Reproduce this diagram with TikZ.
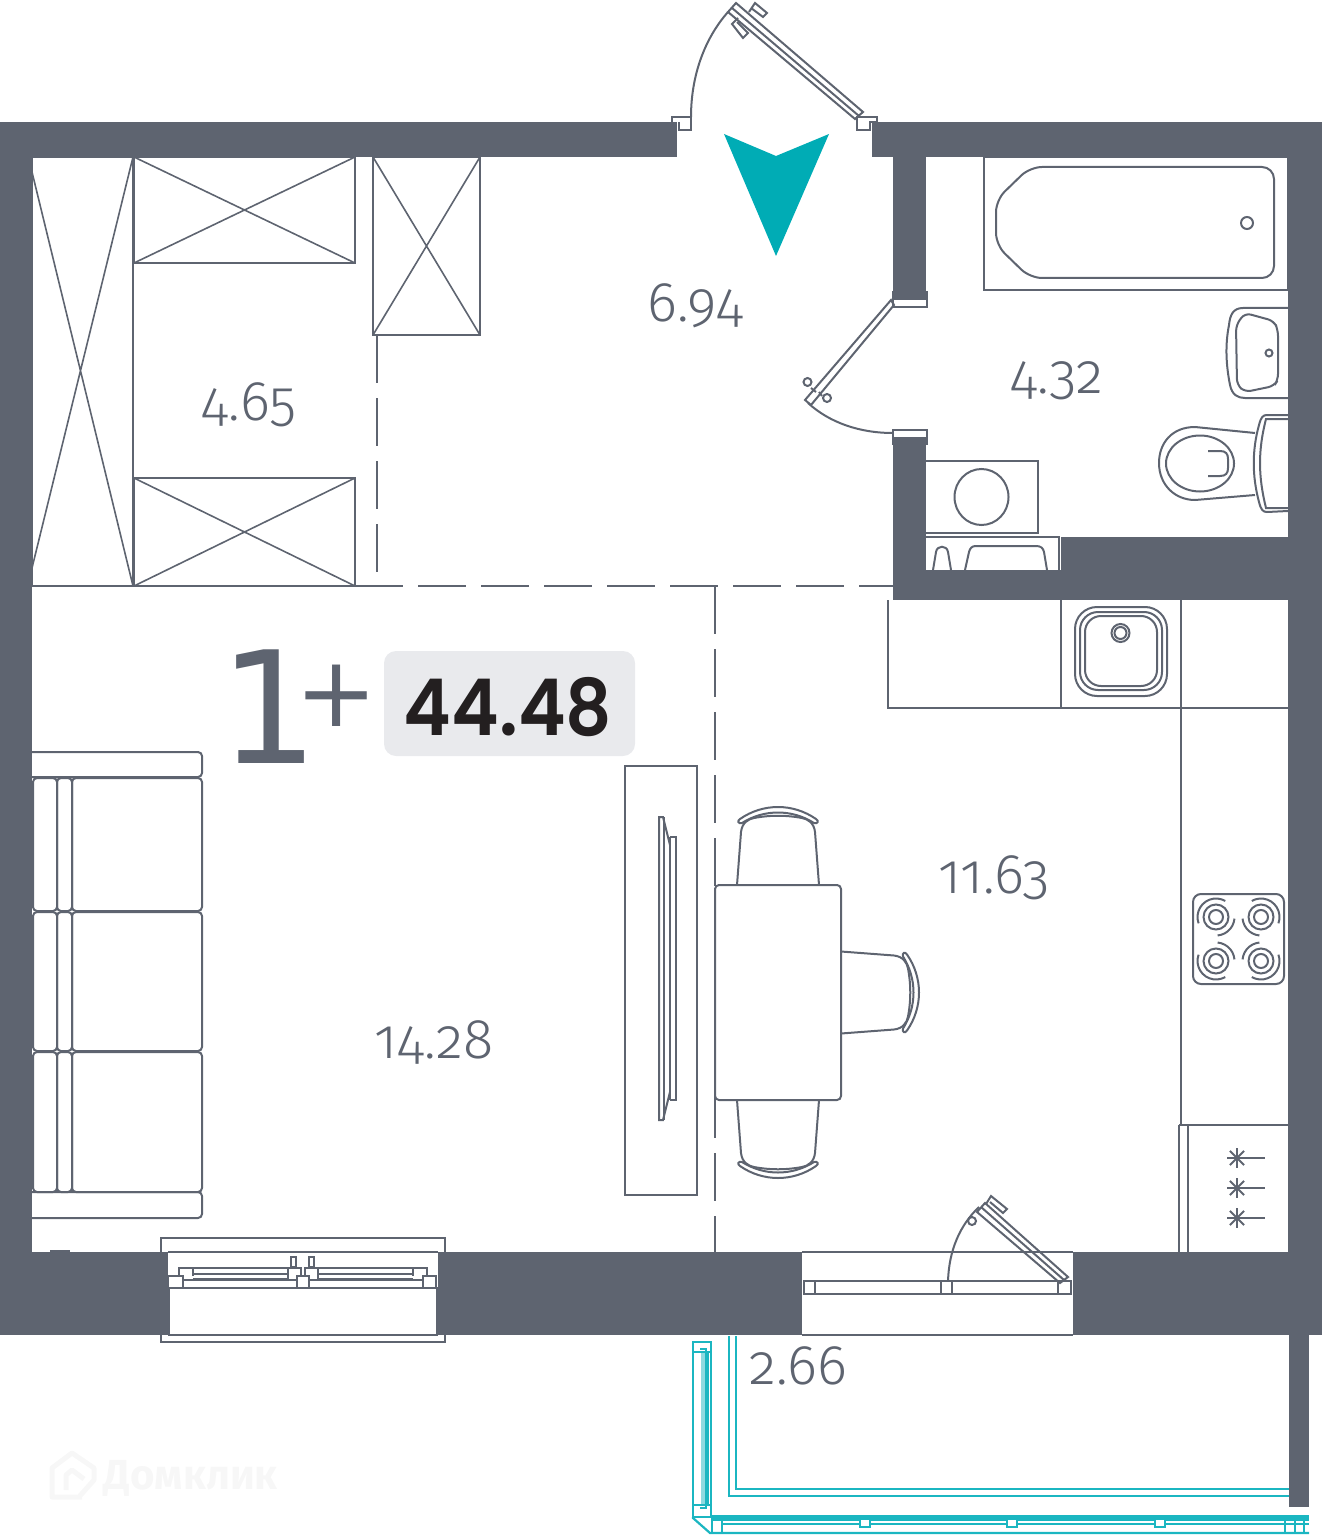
\documentclass[tikz,border=0pt]{standalone}
\usepackage{fontspec}
\usetikzlibrary{positioning}
\setmainfont{Poppins}[BoldFont=* SemiBold]
\newfontfamily\areafont[Numbers=OldStyle,UprightFont=* Light]{Fira Sans}
\newfontfamily\bigfont{DejaVu Sans}
\newfontfamily\markfont{Fira Sans}
\definecolor{wallgrey}{HTML}{5E6470}
\definecolor{teal}{HTML}{00ACB5}
\definecolor{balcony}{HTML}{1BB6C1}
\definecolor{badge}{HTML}{E9EAED}
\definecolor{inkdark}{HTML}{231F20}
\definecolor{faint}{HTML}{F7F7F7}
\newcommand{\area}[3]{\node (#1) at (#2) [arealabel] {#3};}

\begin{document}
\begin{tikzpicture}[x=0.5pt, y=-0.5pt,
    wall/.style={fill=wallgrey, draw=none},
    thing/.style={draw=wallgrey, line width=1pt},
    thin thing/.style={draw=wallgrey, line width=0.8pt},
    room edge/.style={draw=wallgrey, line width=0.9pt, dash pattern=on 24pt off 7.5pt},
    balc/.style={draw=balcony, line width=1.1pt},
    arealabel/.style={text=wallgrey, font=\areafont\fontsize{28}{28}\selectfont, inner sep=0pt},
    chair/.pic={
      \draw[thing] (-41,0) -- (-37,-53) .. controls (-36,-62) and (-30,-66) .. (-24,-67) .. controls (-8,-70) and (8,-70) .. (24,-67) .. controls (30,-66) and (36,-62) .. (37,-53) -- (41,0);
      \draw[thing, fill=white] (-38,-66) .. controls (-15,-82) and (15,-82) .. (38,-66) .. controls (41,-64) and (40,-61) .. (36,-62) .. controls (14,-76) and (-14,-76) .. (-36,-62) .. controls (-40,-61) and (-41,-64) .. (-38,-66) -- cycle;
    },
    burner/.pic={
      \draw[thing] (0,0) circle[radius=7];
      \draw[thing] (0,0) circle[radius=12.5];
      \draw[thing] plot[smooth, domain=-60:-200, samples=12] (\x:18.5);
      \draw[thing] plot[smooth, domain=85:5, samples=8] (\x:18.5);
    }]
\useasboundingbox (0,0) rectangle (1322,1535);

% walls
\foreach \xa/\ya/\xb/\yb in {0/122/677/157, 872/122/1322/157, 0/122/32/1335, 1288/122/1322/1335,
    0/1252/168/1335, 438/1252/802/1335, 1073/1252/1322/1335, 893/157/926/292, 893/444/926/600,
    926/570/1061/600, 1061/537/1288/600, 1289/1335/1309/1507}
  \fill[wall] (\xa,\ya) rectangle (\xb,\yb);
\fill[wall] (50,1250) rectangle (70,1252);

% entrance door
\draw[thing] (672,122) -- (672,117) -- (691,117) -- (691,130) -- (679,130) -- (679,122);
\draw[thing] (870,122) -- (877,122) -- (877,117) -- (857,117) -- (857,130) -- (870,130) -- cycle;
\draw[thing] (736,3) -- (863,112) -- (855,119) -- (728,12) -- cycle;
\draw[thing] (732,8) -- (859,116);
\draw[thing] (749,12) -- (755,3) -- (767,13) -- (763,17) -- (751,8);
\draw[thing] (738,18) -- (732,24) -- (743,38) -- (748,33) -- (737,22);
\draw[thing] (691,117) .. controls (691,75) and (705,38) .. (728,12);
\fill[teal] (724,134) -- (776,156) -- (829,134) -- (776,256) -- cycle;

% room borders
\draw[room edge] (377,335) -- (377,586);
\draw[room edge] (355,586) -- (893,586);
\draw[room edge] (715,586) -- (715,1252);

% wardrobes
\draw[thing] (32,157) rectangle (133,586);
\draw[thin thing] (32,172) -- (133,586) (133,157) -- (32,568);
\foreach \xa/\ya/\xb/\yb in {134/157/355/263, 134/478/355/586, 373/157/480/335}{
  \draw[thing] (\xa,\ya) rectangle (\xb,\yb);
  \draw[thin thing] (\xa,\ya) -- (\xb,\yb) (\xb,\ya) -- (\xa,\yb);
}

% bathroom
\draw[thing] (893,292) rectangle (927,307);
\fill[wall] (893,292) rectangle (927,300);
\draw[thing] (893,430) rectangle (927,444);
\fill[wall] (893,437) rectangle (927,444);
\draw[thing] (891,300) -- (894,305) -- (811,405) -- (805,400) -- cycle;
\draw[thing] (816,392) -- (811,388) (822,396) -- (819,392);
\draw[thing] (807.5,382) circle[radius=4];
\draw[thing] (827,398) circle[radius=4];
\draw[thing] (808,403) .. controls (830,423) and (860,433) .. (893,433);
\draw[thing] (984,157) rectangle (1288,290);
\draw[thing, rounded corners=6pt] (1030,167) -- (1274,167) -- (1274,278) -- (1030,278) -- (996,245) -- (996,200) -- cycle;
\draw[thing] (1247,223) circle[radius=6];
\draw[thing] (1288,308) -- (1243,308) .. controls (1233,308) and (1230,315) .. (1229,325) .. controls (1225,345) and (1226,365) .. (1230,385) .. controls (1232,395) and (1238,398) .. (1245,398) -- (1288,398);
\draw[thing, rounded corners=3pt] (1245,313) -- (1274,321) -- (1278,330) -- (1278,380) -- (1274,386) -- (1245,392) -- (1237,385) -- (1236,325) -- cycle;
\draw[thing] (1269,353) circle[radius=3.5];
\draw[thing] (1255,433) -- (1195,427) .. controls (1172,427) and (1159,443) .. (1159,463) .. controls (1159,485) and (1175,500) .. (1195,500) -- (1255,495);
\draw[thing] (1200,463.5) ellipse[x radius=34, y radius=28];
\draw[thing] (1208,451) -- (1220,451) .. controls (1226,451) and (1228,454) .. (1228,459) -- (1228,468) .. controls (1228,473) and (1226,476) .. (1220,476) -- (1208,476);
\draw[thing] (1288,415) -- (1267,415) .. controls (1263,415) and (1261,417) .. (1259,425) .. controls (1252,450) and (1252,476) .. (1259,502) .. controls (1261,510) and (1263,512) .. (1267,512) -- (1288,511);
\draw[thing] (1288,419) -- (1266,419) .. controls (1258,450) and (1258,476) .. (1266,508) -- (1288,508);
\draw[thing] (926,461) -- (1038,461) -- (1038,533) -- (926,533);
\draw[thing] (981.5,497) ellipse[x radius=27, y radius=28];
\draw[thing] (926,537) -- (1059,537) -- (1059,570);
\draw[thing] (933,570) -- (936,552) .. controls (937,545) and (947,545) .. (948,552) -- (951,570);
\draw[thing] (965,570) -- (969,552) .. controls (970,548) and (972,546) .. (976,546) -- (1036,546) .. controls (1041,546) and (1043,548) .. (1044,552) -- (1047,570);

% kitchen
\draw[thing] (888,600) -- (888,708) -- (1288,708);
\draw[thing] (1061,600) -- (1061,708);
\draw[thing] (1181,600) -- (1181,1125);
\draw[thing] (1179,1125) -- (1288,1125);
\draw[thing] (1179,1125) -- (1179,1252) (1188,1125) -- (1188,1252);
\draw[thing, rounded corners=11pt] (1075,607) rectangle (1167,696);
\draw[thing, rounded corners=9pt] (1080,612) rectangle (1162,690);
\draw[thing, rounded corners=8pt] (1085,616) rectangle (1157,686);
\draw[thing] (1120.5,633) circle[radius=9];
\draw[thing] (1120.5,633) circle[radius=6];
\draw[thing, rounded corners=4pt] (1193,894) rectangle (1284,984);
\pic[xscale=1, yscale=1] at (1216,917) {burner};
\pic[xscale=-1, yscale=1] at (1261,917) {burner};
\pic[xscale=1, yscale=-1] at (1216,961) {burner};
\pic[xscale=-1, yscale=-1] at (1261,961) {burner};
\foreach \y in {1158,1188,1218}{
  \draw[thing] (1237,\y) -- (1265,\y);
  \foreach \a in {0,45,...,315}
    \draw[thing] (1237,\y) -- +(\a:10);
}

% sofa
\draw[thing, rounded corners=2pt] (32,752) -- (202,752) -- (202,777) -- (32,777);
\draw[thing, rounded corners=2pt] (32,1192) -- (202,1192) -- (202,1218) -- (32,1218);
\foreach \ya/\yb in {778/911, 912/1051, 1052/1192}{
  \draw[thing, rounded corners=2pt] (33,\ya) rectangle (57,\yb);
  \draw[thing, rounded corners=2pt] (57,\ya) rectangle (72,\yb);
  \draw[thing, rounded corners=2pt] (72,\ya) rectangle (202,\yb);
}

% tv and table
\draw[thing] (625,766) rectangle (697,1195);
\draw[thing] (670,845) -- (663,817) -- (659,817) -- (659,1120) -- (663,1120) -- (670,1092);
\draw[thing] (664,817) -- (664,1120) (670,837) -- (670,1100) (670,837) -- (676,837) -- (676,1100) -- (670,1100);
\pic at (778,885) {chair};
\pic[yscale=-1] at (778,1100) {chair};
\pic[rotate=-90] at (841,992.5) {chair};
\draw[thing, rounded corners=2pt] (715,885) rectangle (841,1100);

% window
\draw[thing] (161,1252) -- (161,1238) -- (445,1238) -- (445,1252);
\draw[thing] (161,1335) -- (161,1342) -- (445,1342) -- (445,1335);
\draw[thin thing] (168,1252) -- (438,1252);
\draw[thing] (168,1335) -- (438,1335);
\draw[thing] (169,1288) -- (169,1335) (437,1288) -- (437,1335);
\draw[thing] (168,1288) -- (438,1288) (183,1280) -- (297,1280) (309,1280) -- (423,1280);
\foreach \xa/\xb in {168/183, 297/309, 423/436}
  \draw[thing] (\xa,1276) rectangle (\xb,1288);
\draw[thing] (179,1276) -- (179,1268) -- (288,1268) (193,1268) -- (193,1276) (193,1274) -- (288,1274) (193,1279) -- (288,1279);
\draw[thing] (288,1268) -- (301,1268) -- (301,1276) (288,1268) -- (288,1280);
\draw[thing] (427,1276) -- (427,1268) -- (318,1268) (413,1268) -- (413,1276) (318,1274) -- (413,1274) (318,1279) -- (413,1279);
\draw[thing] (318,1268) -- (305,1268) -- (305,1276) (318,1268) -- (318,1280);
\draw[thin thing] (291,1257) rectangle (296,1267) (309,1257) rectangle (314,1267);

% balcony door
\draw[thin thing] (802,1252) -- (1073,1252);
\draw[thing] (802,1335) -- (1073,1335);
\draw[thing] (804,1281) rectangle (1071,1294);
\foreach \x in {815,941,952,1058}
  \draw[thing] (\x,1281) -- (\x,1294);
\draw[thing] (985,1203) -- (1068,1277) -- (1060,1283) -- (977,1212) -- cycle;
\draw[thing] (981,1207) -- (1064,1280);
\draw[thing] (986,1204) -- (991,1196) -- (1007,1209) -- (1003,1213) -- (990,1202);
\draw[thing] (972,1221) circle[radius=4];
\draw[thing] (948,1281) .. controls (949,1250) and (960,1225) .. (979,1207);

% balcony
\draw[balc] (729,1336) -- (729,1496) -- (1289,1496);
\draw[balc] (736,1336) -- (736,1489) -- (1289,1489);
\draw[balc] (693,1342) rectangle (711,1517);
\draw[balc] (693,1352) -- (711,1352) (693,1505) -- (711,1505);
\draw[balc, draw opacity=.5, line width=2pt] (703,1352) -- (703,1505);
\draw[balc] (700,1349) -- (706,1349) -- (706,1508) -- (700,1508) (708,1352) -- (708,1505);
\draw[balc] (693,1517) -- (693,1518) -- (710,1533) -- (1309,1533);
\draw[balc] (712,1516) -- (712,1533) (722,1516) -- (722,1533);
\fill[balcony] (712,1515) rectangle (1309,1521);
\draw[balc] (722,1524) -- (1309,1524);
\draw[balc] (720,1515) -- (720,1521);
\foreach \x in {865,1012,1160}
  \draw[balc, fill=white] (\x-5,1519) rectangle (\x+5,1527);
\foreach \x in {1285,1295,1304}
  \draw[balc] (\x,1515) -- (\x,1534);

% areas
\area{wardrobe}{249,405}{4.65}
\area{hall}{695,306}{6.94}
\area{bath}{1057,381}{4.32}
\area{kitchen}{994,878}{11.63}
\area{living}{434,1042}{14.28}
\area{terrace}{798.5,1366}{2.66}

% total
\node (one) at (269,707) [text=wallgrey, inner sep=0pt, font=\bigfont\fontsize{78}{78}\selectfont] {\makebox[35pt]{1}};
\node (plus) at (336.5,696) [text=wallgrey, inner sep=0pt, font=\bigfont\fontsize{49}{49}\selectfont] {\makebox[31pt]{+}};
\fill[badge, rounded corners=6pt] (384,651) rectangle (635,756);
\node (total) at (508,707) [text=inkdark, inner sep=0pt, font=\bfseries\fontsize{38}{38}\selectfont] {\scalebox{.95}[1.03]{44.48}};

% watermark
\node (brand) at (191,1478) [text=faint, inner sep=0pt, font=\markfont\bfseries\fontsize{21}{21}\selectfont] {Домклик};
\draw[faint, line width=2.5pt, line join=round] (82,1497) -- (52,1497) -- (52,1468) -- (72,1453) -- (94,1468) -- (94,1480) -- (78,1498);
\draw[faint, line width=2.5pt, line join=round] (66,1490) -- (66,1475) -- (72,1470) -- (84,1479);
\end{tikzpicture}
\end{document}
